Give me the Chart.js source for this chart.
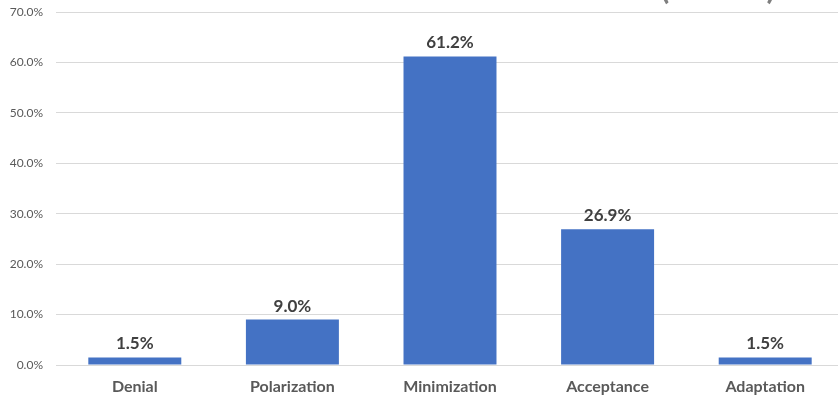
<!DOCTYPE html>
<html>
<head>
<meta charset="utf-8">
<script src="https://cdn.jsdelivr.net/npm/chart.js@4/dist/chart.umd.min.js"></script>
<style>
  html, body { margin: 0; padding: 0; background: #fff; overflow: hidden; }
</style>
</head>
<body>
<canvas id="myChart" width="844" height="397"></canvas>
<script>
const categories = ["Denial", "Polarization", "Minimization", "Acceptance", "Adaptation"];
const percentValues = [1.5, 9.0, 61.2, 26.9, 1.5];
const yTicks = [0, 10, 20, 30, 40, 50, 60, 70];

const fontFamily = "Lato, 'Open Sans', sans-serif";
const ctx = document.getElementById('myChart').getContext('2d');

// value labels above each bar
const barLabels = {
  id: 'barLabels',
  afterDatasetsDraw(chart) {
    const c = chart.ctx;
    const meta = chart.getDatasetMeta(0);
    c.save();
    c.font = "bold 17px " + fontFamily;
    c.fillStyle = "#404040";
    c.textAlign = "center";
    c.textBaseline = "bottom";
    meta.data.forEach((bar, i) => {
      c.fillText(percentValues[i].toFixed(1) + "%", bar.x, bar.y - 5);
    });
    c.restore();
  }
};

// heading sits mostly above the visible area, only the brackets dip in
const headingTail = {
  id: 'headingTail',
  afterDraw(chart) {
    const c = chart.ctx;
    c.save();
    c.font = "bold 32px " + fontFamily;
    c.fillStyle = "#7f7f7f";
    c.textBaseline = "alphabetic";
    c.textAlign = "center";
    c.fillText("(", 665, -1);
    c.fillText(")", 771, -1);
    c.restore();
  }
};

const myChart = new Chart(ctx, {
  type: 'bar',
  data: {
    labels: categories,
    datasets: [{
      data: percentValues,
      backgroundColor: '#4472c4',
      borderWidth: 0,
      categoryPercentage: 1,
      barPercentage: 0.59
    }]
  },
  plugins: [barLabels, headingTail],
  options: {
    responsive: false,
    animation: false,
    layout: { padding: { top: 12, left: 0, right: 0, bottom: 0 } },
    plugins: {
      legend: { display: false },
      tooltip: { enabled: false }
    },
    scales: {
      x: {
        afterFit(scale) {
          scale.height = 32;
          scale.paddingLeft = 0;
          scale.paddingRight = 0;
        },
        grid: { display: false, drawTicks: false },
        border: { color: '#d9d9d9', width: 1 },
        ticks: {
          color: '#595959',
          font: { family: fontFamily, size: 16, weight: 'bold' },
          padding: 12
        }
      },
      y: {
        min: 0,
        max: 70,
        afterBuildTicks(axis) {
          axis.ticks = yTicks.map(v => ({ value: v }));
        },
        afterFit(scale) {
          scale.width = 56;
          scale.paddingTop = 0;
          scale.paddingBottom = 0;
        },
        grid: { color: '#d9d9d9', drawTicks: false },
        border: { display: false },
        ticks: {
          color: '#595959',
          font: { family: fontFamily, size: 12 },
          padding: 13,
          callback: v => v.toFixed(1) + '%'
        }
      }
    }
  }
});
</script>
</body>
</html>
